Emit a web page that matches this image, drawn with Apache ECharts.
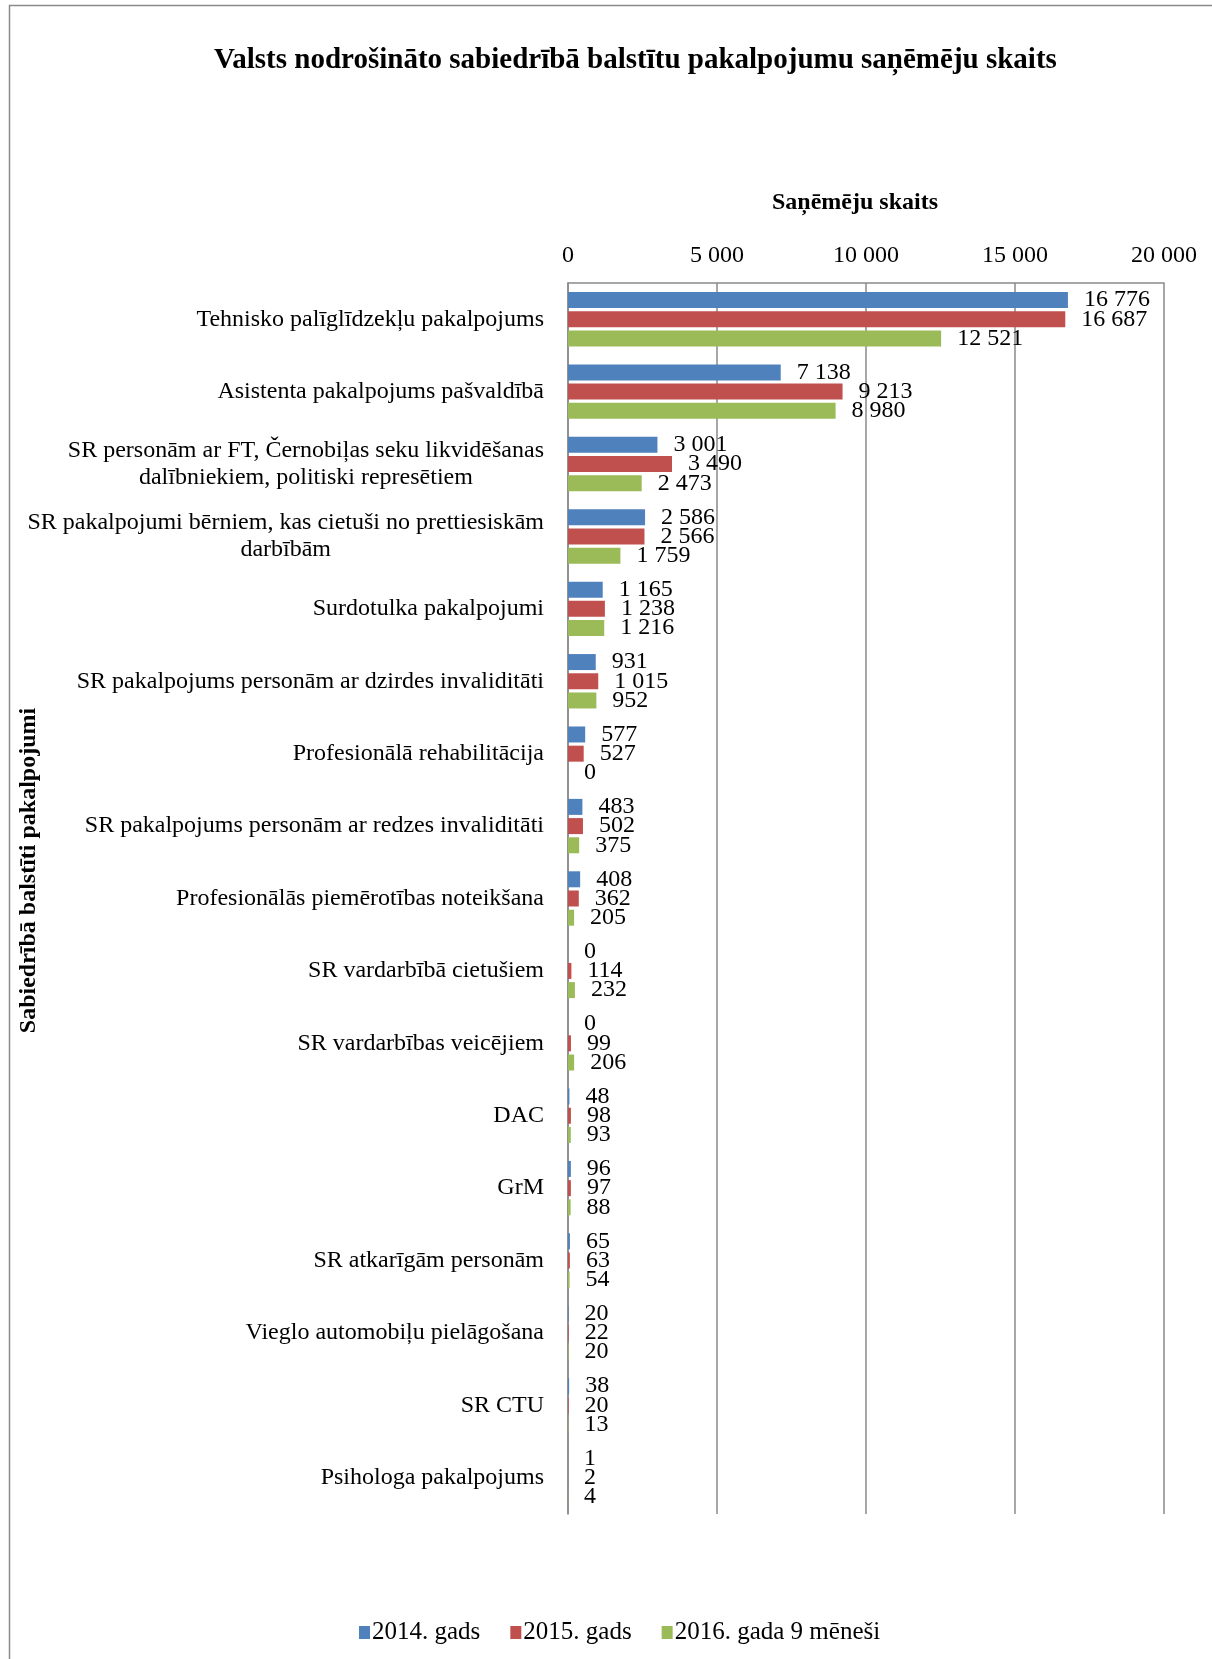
<!DOCTYPE html>
<html><head><meta charset="utf-8">
<script src="https://cdn.jsdelivr.net/npm/echarts/dist/echarts.min.js"></script>
<style>html,body{margin:0;padding:0;background:#fff}#c{width:1212px;height:1659px}</style>
</head><body><div id="c"></div>
<script>
const categories = [
  'Tehnisko palīglīdzekļu pakalpojums',
  'Asistenta pakalpojums pašvaldībā',
  'SR personām ar FT, Černobiļas seku likvidēšanas\ndalībniekiem, politiski represētiem',
  'SR pakalpojumi bērniem, kas cietuši no prettiesiskām\ndarbībām',
  'Surdotulka pakalpojumi',
  'SR pakalpojums personām ar dzirdes invaliditāti',
  'Profesionālā rehabilitācija',
  'SR pakalpojums personām ar redzes invaliditāti',
  'Profesionālās piemērotības noteikšana',
  'SR vardarbībā cietušiem',
  'SR vardarbības veicējiem',
  'DAC',
  'GrM',
  'SR atkarīgām personām',
  'Vieglo automobiļu pielāgošana',
  'SR CTU',
  'Psihologa pakalpojums'
];
const seriesNames = ['2014. gads', '2015. gads', '2016. gada 9 mēneši'];
const values2014 = [16776, 7138, 3001, 2586, 1165, 931, 577, 483, 408, 0, 0, 48, 96, 65, 20, 38, 1];
const values2015 = [16687, 9213, 3490, 2566, 1238, 1015, 527, 502, 362, 114, 99, 98, 97, 63, 22, 20, 2];
const values2016 = [12521, 8980, 2473, 1759, 1216, 952, 0, 375, 205, 232, 206, 93, 88, 54, 20, 13, 4];
const xTicks = [0, 5000, 10000, 15000, 20000];
const chartTitle = 'Valsts nodrošināto sabiedrībā balstītu pakalpojumu saņēmēju skaits';
const xAxisName = 'Saņēmēju skaits';
const yAxisName = 'Sabiedrībā balstīti pakalpojumi';

const colors = ['#4F81BD', '#C0504D', '#9BBB59'];
const FONT = '"Liberation Serif", "Times New Roman", serif';
const fmt = v => String(v).replace(/\B(?=(\d{3})+(?!\d))/g, ' ');

const chart = echarts.init(document.getElementById('c'));
const allValues = [values2014, values2015, values2016];
chart.setOption({
  backgroundColor: '#fff',
  animation: false,
  title: {
    text: chartTitle,
    left: 214,
    top: 46,
    padding: 0,
    textStyle: { fontFamily: FONT, fontSize: 29, fontWeight: 'bold', color: '#000' }
  },
  graphic: [{
    type: 'rect', silent: true,
    shape: { x: 9.5, y: 5.5, width: 1260, height: 1700 },
    style: { fill: 'none', stroke: '#8a8a8a', lineWidth: 1.5 }
  }],
  legend: {
    data: seriesNames,
    left: 354,
    top: 1615,
    itemWidth: 11,
    itemHeight: 13,
    itemGap: 30,
    icon: 'rect',
    textStyle: { fontFamily: FONT, fontSize: 25, color: '#000', padding: [0, 0, 0, -3] }
  },
  grid: { left: 568, right: 48, top: 283, bottom: 145, outerBoundsMode: 'none', containLabel: false },
  xAxis: {
    type: 'value',
    position: 'top',
    min: xTicks[0],
    max: xTicks[xTicks.length - 1],
    interval: xTicks[1] - xTicks[0],
    name: xAxisName,
    nameLocation: 'middle',
    nameGap: 68,
    nameMoveOverlap: false,
    nameTextStyle: { fontFamily: FONT, fontSize: 24, fontWeight: 'bold', color: '#000', padding: [0, 22, 0, 0] },
    axisLine: { show: true, lineStyle: { color: '#8a8a8a', width: 1.5 } },
    axisTick: { show: false },
    axisLabel: { formatter: fmt, margin: 15, fontFamily: FONT, fontSize: 24, color: '#000' },
    splitLine: { show: true, lineStyle: { color: '#8a8a8a', width: 1.5 } }
  },
  yAxis: {
    type: 'category',
    inverse: true,
    data: categories,
    name: yAxisName,
    nameLocation: 'middle',
    nameGap: 527,
    nameMoveOverlap: false,
    nameTextStyle: { fontFamily: FONT, fontSize: 24, fontWeight: 'bold', color: '#000', padding: [0, 0, 0, 56] },
    axisLine: { show: true, lineStyle: { color: '#8a8a8a', width: 1.5 } },
    axisTick: { show: false },
    axisLabel: {
      margin: 24,
      fontFamily: FONT, fontSize: 24, color: '#000', lineHeight: 27,
      formatter: v => v.split('\n').map(l => '{c|' + l + '}').join('\n'),
      rich: { c: { align: 'center', fontFamily: FONT, fontSize: 24, color: '#000', lineHeight: 27 } }
    },
    splitLine: { show: false }
  },
  series: seriesNames.map((n, i) => ({
    name: n,
    type: 'bar',
    data: allValues[i],
    barWidth: 16,
    barGap: '20%',
    itemStyle: { color: colors[i] },
    label: {
      show: true, position: 'right', distance: 16,
      formatter: p => fmt(p.value),
      fontFamily: FONT, fontSize: 24, color: '#000'
    }
  }))
});
</script></body></html>
